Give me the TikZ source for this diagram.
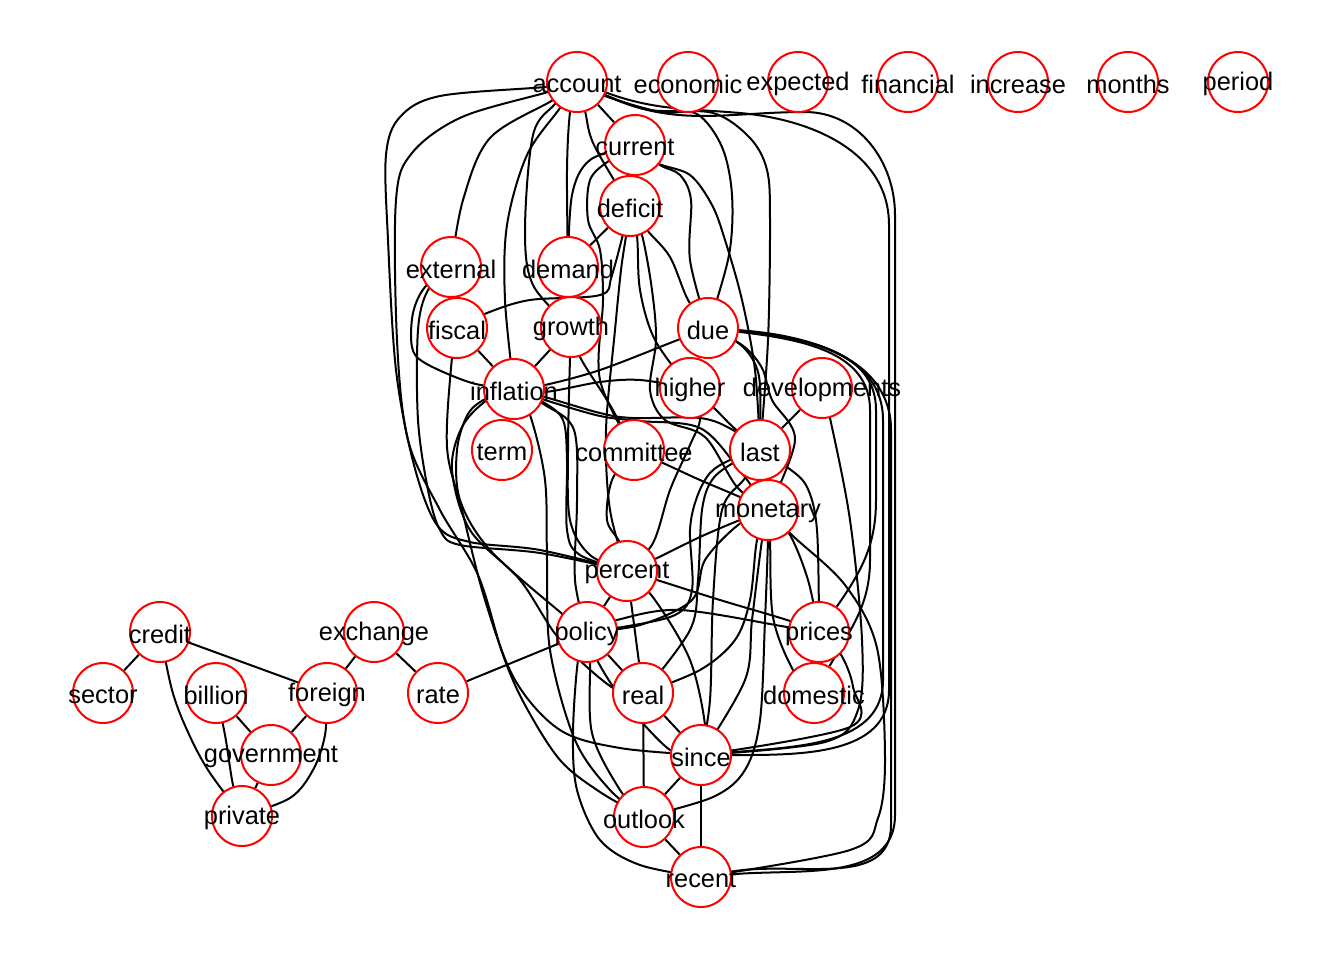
\documentclass[tikz,border=0pt]{standalone}
\usepackage{fontspec}
\setmainfont{Liberation Sans}
\pgfdeclarelayer{bg}
\pgfdeclarelayer{edges}
\pgfsetlayers{bg,edges,main}
\begin{document}
\begin{tikzpicture}[x=0.5pt,y=-0.5pt,
  vtx/.style={circle,draw=red,fill=white,line width=1pt,minimum size=30pt,inner sep=0pt},
  word/.style={inner sep=0pt,font=\fontsize{12.7}{15}\selectfont},
  lnk/.style={line width=1pt,black,line join=round},
  crv/.style={smooth,tension=0.55}]
\useasboundingbox (0,0) rectangle (1344,960);
\begin{pgfonlayer}{bg}
\fill[white] (0,0) rectangle (1344,960);
\end{pgfonlayer}

% vertices
\foreach \n/\x/\y in {account/577/82, economic/688/82, expected/798/82, financial/908/82,
  increase/1018/82, months/1128/82, period/1238/82, current/635/145, deficit/630/206,
  external/451/267, demand/568/267, fiscal/457/328, growth/571/327, due/708/328,
  inflation/514/389, higher/690/388, developments/822/388, term/502/450,
  committee/634/450, last/760/450, monetary/768/510, percent/627/571, credit/160/632,
  exchange/374/632, policy/587/632, prices/819/632, sector/103/693, billion/216/693,
  foreign/327/693, rate/438/693, real/643/693, domestic/814/693, government/271/755,
  since/701/755, private/242/816, outlook/644/817, recent/701/877}
  \node[vtx] (\n) at (\x,\y) {};

% vertex labels
\foreach \n in {account, economic, expected, financial, increase, months, period, current,
  deficit, external, demand, fiscal, growth, due, inflation, higher, developments, term,
  committee, last, monetary, percent, credit, exchange, policy, prices, sector, billion,
  foreign, rate, real, domestic, government, since, private, outlook, recent}
  \node[word] (w-\n) at ([yshift=-1pt]\n) {\n};

\begin{pgfonlayer}{edges}
% small component on the left
\draw[lnk] (credit) -- (sector);
\draw[lnk] (credit) -- (foreign);
\draw[lnk] plot[crv] coordinates {(credit) (172,690) (187,730) (208,770) (private)};
\draw[lnk] (billion) -- (government);
\draw[lnk] plot[crv] coordinates {(billion) (225,735) (233,785) (private)};
\draw[lnk] (foreign) -- (government);
\draw[lnk] plot[crv] coordinates {(foreign) (325,735) (313,770) (290,798) (private)};
\draw[lnk] (government) -- (private);
\draw[lnk] (exchange) -- (foreign);
\draw[lnk] (exchange) -- (rate);
\draw[lnk] (rate) -- (policy);

% account
\draw[lnk] plot[crv] coordinates {(account) (545,87) (440,96) (400,117) (386,155) (388,240) (396,370) (414,465) (437,525) (470,542) (540,550) (percent)};
\draw[lnk] plot[crv] coordinates {(account) (548,92) (462,117) (412,153) (396,200) (397,340) (408,440) (440,510) (478,575) (503,655) (525,705) (560,760) (600,792) (outlook)};
\draw[lnk] plot[crv] coordinates {(account) (553,100) (490,138) (463,200) (external)};
\draw[lnk] plot[crv] coordinates {(account) (560,108) (527,155) (507,225) (505,300) (inflation)};
\draw[lnk] plot[crv] coordinates {(account) (570,112) (567,170) (demand)};
\draw[lnk] plot[crv] coordinates {(account) (585,111) (594,145) (deficit)};
\draw[lnk] plot[crv] coordinates {(account) (555,104) (533,135) (525,230) (533,285) (growth)};
\draw[lnk] (account) -- (current);
\draw[lnk] plot[crv] coordinates {(account) (605,95) (650,110) (713,113) (750,138) (767,170) (770,220) (768,340) (last)};
\draw[lnk] plot[crv] coordinates {(account) (605,96) (660,112) (697,114) (722,147) (732,195) (729,255) (due)};
\draw[lnk] (account) to[out=-25,in=180] (805,112) to[out=0,in=90] (895,215) -- (895,815) to[out=-90,in=5] (recent);
\draw[lnk] (account) to[out=-20,in=175] (740,113) to[out=-5,in=90] (889,225) -- (889,690) to[out=-90,in=0] (since);

% external, fiscal, demand, current, deficit
\draw[lnk] (external) -- (fiscal);
\draw[lnk] plot[crv] coordinates {(external) (425,287) (413,313) (412,347) (425,363) (472,383) (inflation)};
\draw[lnk] plot[crv] coordinates {(external) (428,290) (418,330) (418,420) (428,490) (440,530) (460,545) (540,553) (percent)};
\draw[lnk] plot[crv] coordinates {(fiscal) (487,313) (530,300) (600,295) (612,275) (deficit)};
\draw[lnk] (fiscal) -- (inflation);
\draw[lnk] plot[crv] coordinates {(fiscal) (452,357) (447,447) (462,510) (485,600) (515,680) (560,730) (620,748) (since)};
\draw[lnk] (demand) -- (deficit);
\draw[lnk] plot[crv] coordinates {(current) (590,160) (572,195) (demand)};
\draw[lnk] (current) -- (deficit);
\draw[lnk] plot[crv] coordinates {(current) (657,163) (690,175) (712,205) (725,240) (742,300) (755,370) (last)};
\draw[lnk] plot[crv] coordinates {(current) (610,160) (590,180) (588,220) (600,250) (603,300) (600,380) (committee)};
\draw[lnk] plot[crv] coordinates {(current) (660,165) (680,175) (691,200) (690,260) (due)};
\draw[lnk] plot[crv] coordinates {(deficit) (647,230) (670,257) (688,300) (due)};
\draw[lnk] plot[crv] coordinates {(deficit) (626,236) (621,270) (615,330) (606,430) (610,510) (percent)};
\draw[lnk] plot[crv] coordinates {(deficit) (637,236) (640,290) (655,340) (higher)};
\draw[lnk] plot[crv] coordinates {(deficit) (642,235) (652,290) (656,340) (650,390) (665,420) (705,437) (737,487) (monetary)};

% growth, inflation
\draw[lnk] (growth) -- (inflation);
\draw[lnk] plot[crv] coordinates {(growth) (570,357) (568,450) (570,520) (590,555) (percent)};
\draw[lnk] plot[crv] coordinates {(growth) (580,357) (610,405) (committee)};
\draw[lnk] (inflation) -- (term);
\draw[lnk] plot[crv] coordinates {(inflation) (545,385) (600,370) (670,343) (due)};
\draw[lnk] plot[crv] coordinates {(inflation) (545,392) (600,382) (640,380) (higher)};
\draw[lnk] plot[crv] coordinates {(inflation) (545,397) (600,413) (633,418) (700,418) (733,430) (last)};
\draw[lnk] plot[crv] coordinates {(inflation) (545,400) (600,416) (640,421) (700,428) (738,468) (monetary)};
\draw[lnk] plot[crv] coordinates {(inflation) (543,402) (563,420) (567,460) (567,530) (580,555) (percent)};
\draw[lnk] plot[crv] coordinates {(inflation) (545,405) (574,430) (577,500) (575,580) (policy)};
\draw[lnk] plot[crv] coordinates {(inflation) (487,400) (462,427) (452,470) (470,530) (520,580) (560,640) (613,688) (real)};
\draw[lnk] plot[crv] coordinates {(inflation) (487,398) (468,414) (457,450) (460,500) (490,550) (560,612) (policy)};
\draw[lnk] plot[crv] coordinates {(inflation) (530,415) (545,480) (547,560) (550,650) (575,740) (610,790) (outlook)};

% committee, due, higher, developments
\draw[lnk] plot[crv] coordinates {(committee) (612,480) (607,520) (620,543) (percent)};
\draw[lnk] plot[crv] coordinates {(committee) (663,463) (700,480) (740,497) (monetary)};
\draw[lnk] (due) -- (higher);
\draw[lnk] plot[crv] coordinates {(due) (737,342) (753,360) (760,385) (last)};
\draw[lnk] plot[crv] coordinates {(due) (742,345) (762,368) (772,400) (795,440) (monetary)};
\draw[lnk] (due) to[out=-6,in=90] (876,410) -- (876,500) to[out=-90,in=55] (prices);
\draw[lnk] (due) to[out=-5,in=90] (883,420) -- (883,680) to[out=-90,in=5] (since);
\draw[lnk] (due) to[out=-4,in=90] (891,430) -- (891,825) to[out=-90,in=10] (recent);
\draw[lnk] (due) to[out=-7,in=90] (870,410) -- (870,560) to[out=-90,in=60] (domestic);
\draw[lnk] plot[crv] coordinates {(higher) (713,407) (733,427) (last)};
\draw[lnk] plot[crv] coordinates {(higher) (700,418) (690,445) (670,490) (653,543) (percent)};
\draw[lnk] (developments) -- (last);
\draw[lnk] plot[crv] coordinates {(developments) (830,418) (850,520) (862,640) (858,710) (825,742) (since)};

% last, monetary
\draw[lnk] (last) -- (monetary);
\draw[lnk] plot[crv] coordinates {(last) (730,460) (710,473) (697,497) (690,530) (692,590) (675,615) (617,628) (policy)};
\draw[lnk] plot[crv] coordinates {(last) (733,463) (712,480) (702,510) (698,580) (690,630) (real)};
\draw[lnk] plot[crv] coordinates {(last) (745,478) (722,510) (713,600) (710,700) (since)};
\draw[lnk] plot[crv] coordinates {(last) (787,467) (807,487) (817,530) (prices)};
\draw[lnk] plot[crv] coordinates {(monetary) (740,520) (700,537) (653,560) (percent)};
\draw[lnk] plot[crv] coordinates {(monetary) (790,535) (808,580) (prices)};
\draw[lnk] plot[crv] coordinates {(monetary) (770,540) (773,617) (793,670) (domestic)};
\draw[lnk] plot[crv] coordinates {(monetary) (793,536) (845,585) (877,648) (885,757) (878,818) (850,850) (recent)};
\draw[lnk] plot[crv] coordinates {(monetary) (762,540) (752,620) (745,680) (since)};
\draw[lnk] plot[crv] coordinates {(monetary) (768,540) (765,620) (760,720) (745,770) (713,797) (outlook)};
\draw[lnk] plot[crv] coordinates {(monetary) (757,540) (750,600) (735,640) (700,670) (real)};
\draw[lnk] plot[crv] coordinates {(monetary) (738,525) (705,560) (692,600) (640,625) (policy)};

% percent, policy and the lower part
\draw[lnk] (percent) -- (policy);
\draw[lnk] plot[crv] coordinates {(percent) (657,580) (720,600) (787,620) (prices)};
\draw[lnk] (percent) -- (real);
\draw[lnk] plot[crv] coordinates {(percent) (655,600) (690,660) (705,725) (since)};
\draw[lnk] (policy) -- (real);
\draw[lnk] plot[crv] coordinates {(policy) (617,620) (680,610) (787,627) (prices)};
\draw[lnk] plot[crv] coordinates {(policy) (590,660) (592,733) (620,790) (outlook)};
\draw[lnk] plot[crv] coordinates {(policy) (597,660) (623,700) (670,750) (since)};
\draw[lnk] plot[crv] coordinates {(policy) (578,660) (573,733) (577,790) (600,840) (640,865) (recent)};
\draw[lnk] (real) -- (outlook);
\draw[lnk] (real) -- (since);
\draw[lnk] (since) -- (recent);
\draw[lnk] (since) -- (outlook);
\draw[lnk] (prices) -- (domestic);
\draw[lnk] plot[crv] coordinates {(prices) (840,653) (853,687) (850,727) (since)};
\draw[lnk] (outlook) -- (recent);
\end{pgfonlayer}
\end{tikzpicture}
\end{document}
